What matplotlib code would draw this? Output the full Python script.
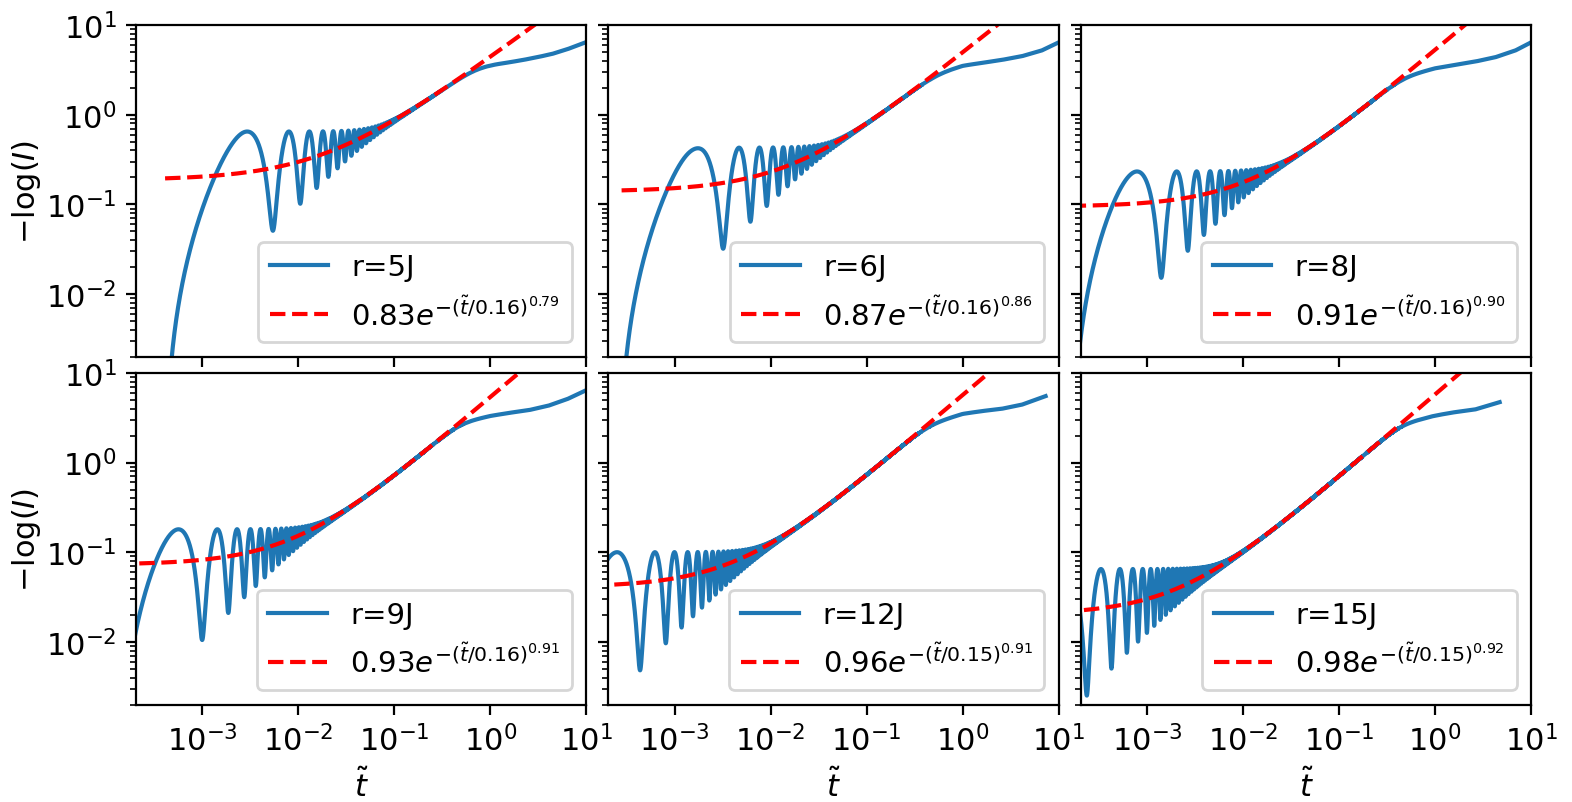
import numpy as np
import matplotlib
matplotlib.use("Agg")
from matplotlib import pyplot as plt
from matplotlib.ticker import LogLocator

# one entry per panel
radii = [5, 6, 8, 9, 12, 15]
fit_amp = [0.83, 0.87, 0.91, 0.93, 0.96, 0.98]
fit_tau = [0.16, 0.16, 0.16, 0.16, 0.15, 0.15]
fit_beta = [0.79, 0.86, 0.90, 0.91, 0.91, 0.92]
fit_start = [4.1e-4, 2.8e-4, 1.6e-4, 1.3e-4, 2.35e-4, 2.2e-4]

# early-time oscillations: start time, period, peak level, trough growth rate
osc_start = [4.1e-4, 2.6e-4, 1.6e-4, 1.3e-4, 0.65e-4, 0.46e-4]
osc_period = [5.05e-3, 2.95e-3, 1.25e-3, 0.87e-3, 3.72e-4, 1.9e-4]
peak_level = [0.65, 0.43, 0.233, 0.18, 0.10, 0.065]
trough_slope = [10.1, 10.9, 12.2, 12.1, 13.0, 13.3]
t_end = [10, 10, 10, 10, 7.3, 4.7]

# late-time points where the data leave the fit
late_t = [
    [0.69, 1.0, 1.45, 2.09, 3.02, 4.37, 6.3, 10],
    [0.70, 1.0, 1.57, 2.54, 4.1, 6.6, 10],
    [0.72, 1.0, 1.6, 2.6, 4.2, 6.8, 10],
    [0.69, 1.0, 1.58, 2.5, 4.0, 6.3, 10],
    [0.70, 1.0, 1.57, 2.54, 4.1, 7.3],
    [0.72, 1.0, 1.6, 2.6, 4.7],
]
late_L = [
    [3.40, 3.61, 3.80, 4.04, 4.36, 4.75, 5.36, 6.46],
    [3.18, 3.53, 3.78, 4.08, 4.48, 5.18, 6.41],
    [3.02, 3.30, 3.59, 3.91, 4.36, 5.18, 6.41],
    [3.04, 3.31, 3.58, 3.83, 4.29, 5.08, 6.41],
    [3.12, 3.49, 3.74, 3.97, 4.40, 5.50],
    [3.07, 3.34, 3.64, 3.90, 4.71],
]


def fit_curve(t, A, tau, beta):
    return -np.log(A) + (t / tau) ** beta


def late_curve(t, i):
    lt = np.log(late_t[i])
    lL = np.log(late_L[i])
    out = np.interp(np.log(t), lt, lL)
    # before the first point, keep the slope of the first segment
    s0 = (lL[1] - lL[0]) / (lt[1] - lt[0])
    left = np.log(t) < lt[0]
    out[left] = lL[0] + s0 * (np.log(t[left]) - lt[0])
    return np.exp(out)


def data_curve(i):
    t0 = osc_start[i]
    t = t0 + np.geomspace(1e-7, t_end[i] - t0, 60000)
    fit = fit_curve(t, fit_amp[i], fit_tau[i], fit_beta[i])
    k = 6
    lo = trough_slope[i] * (t - t0)
    lo = (lo ** -k + fit ** -k) ** (-1 / k)
    hi = (peak_level[i] ** k + fit ** k) ** (1 / k)
    main = lo + (hi - lo) * np.sin(np.pi * (t - t0) / osc_period[i]) ** 2
    late = late_curve(t, i)
    m = 8
    L = (main ** -m + late ** -m) ** (-1 / m)
    return t, L


plt.rcParams['font.size'] = 11

fig, axes = plt.subplots(2, 3, sharex=True, sharey=True, figsize=(7.86, 4.015), dpi=200)
plt.subplots_adjust(left=0.0865, right=0.974, top=0.9676, bottom=0.1212,
                    wspace=0.049, hspace=0.048)

for i, ax in enumerate(axes.flat):
    t, L = data_curve(i)
    ax.plot(t, L, color='C0', label='r={}J'.format(radii[i]))
    tr = np.geomspace(fit_start[i], 10, 600)
    lab = r'${:.2f}e^{{-(\tilde{{t}}/{:.2f})^{{{:.2f}}}}}$'.format(
        fit_amp[i], fit_tau[i], fit_beta[i])
    ax.plot(tr, fit_curve(tr, fit_amp[i], fit_tau[i], fit_beta[i]), 'r--', label=lab)
    ax.set_xscale('log')
    ax.set_yscale('log')
    ax.legend(loc='lower right', fontsize=10.5)

axes[0, 0].set_xlim(2.04e-4, 10)
axes[0, 0].set_ylim(2e-3, 10)
axes[0, 0].xaxis.set_major_locator(LogLocator(base=10, numticks=12))
for ax in axes[:, 0]:
    ax.set_ylabel(r'$-\log(I)$', labelpad=1)
for ax in axes[1, :]:
    ax.set_xlabel(r'$\tilde{t}$')

plt.savefig('out.png')
